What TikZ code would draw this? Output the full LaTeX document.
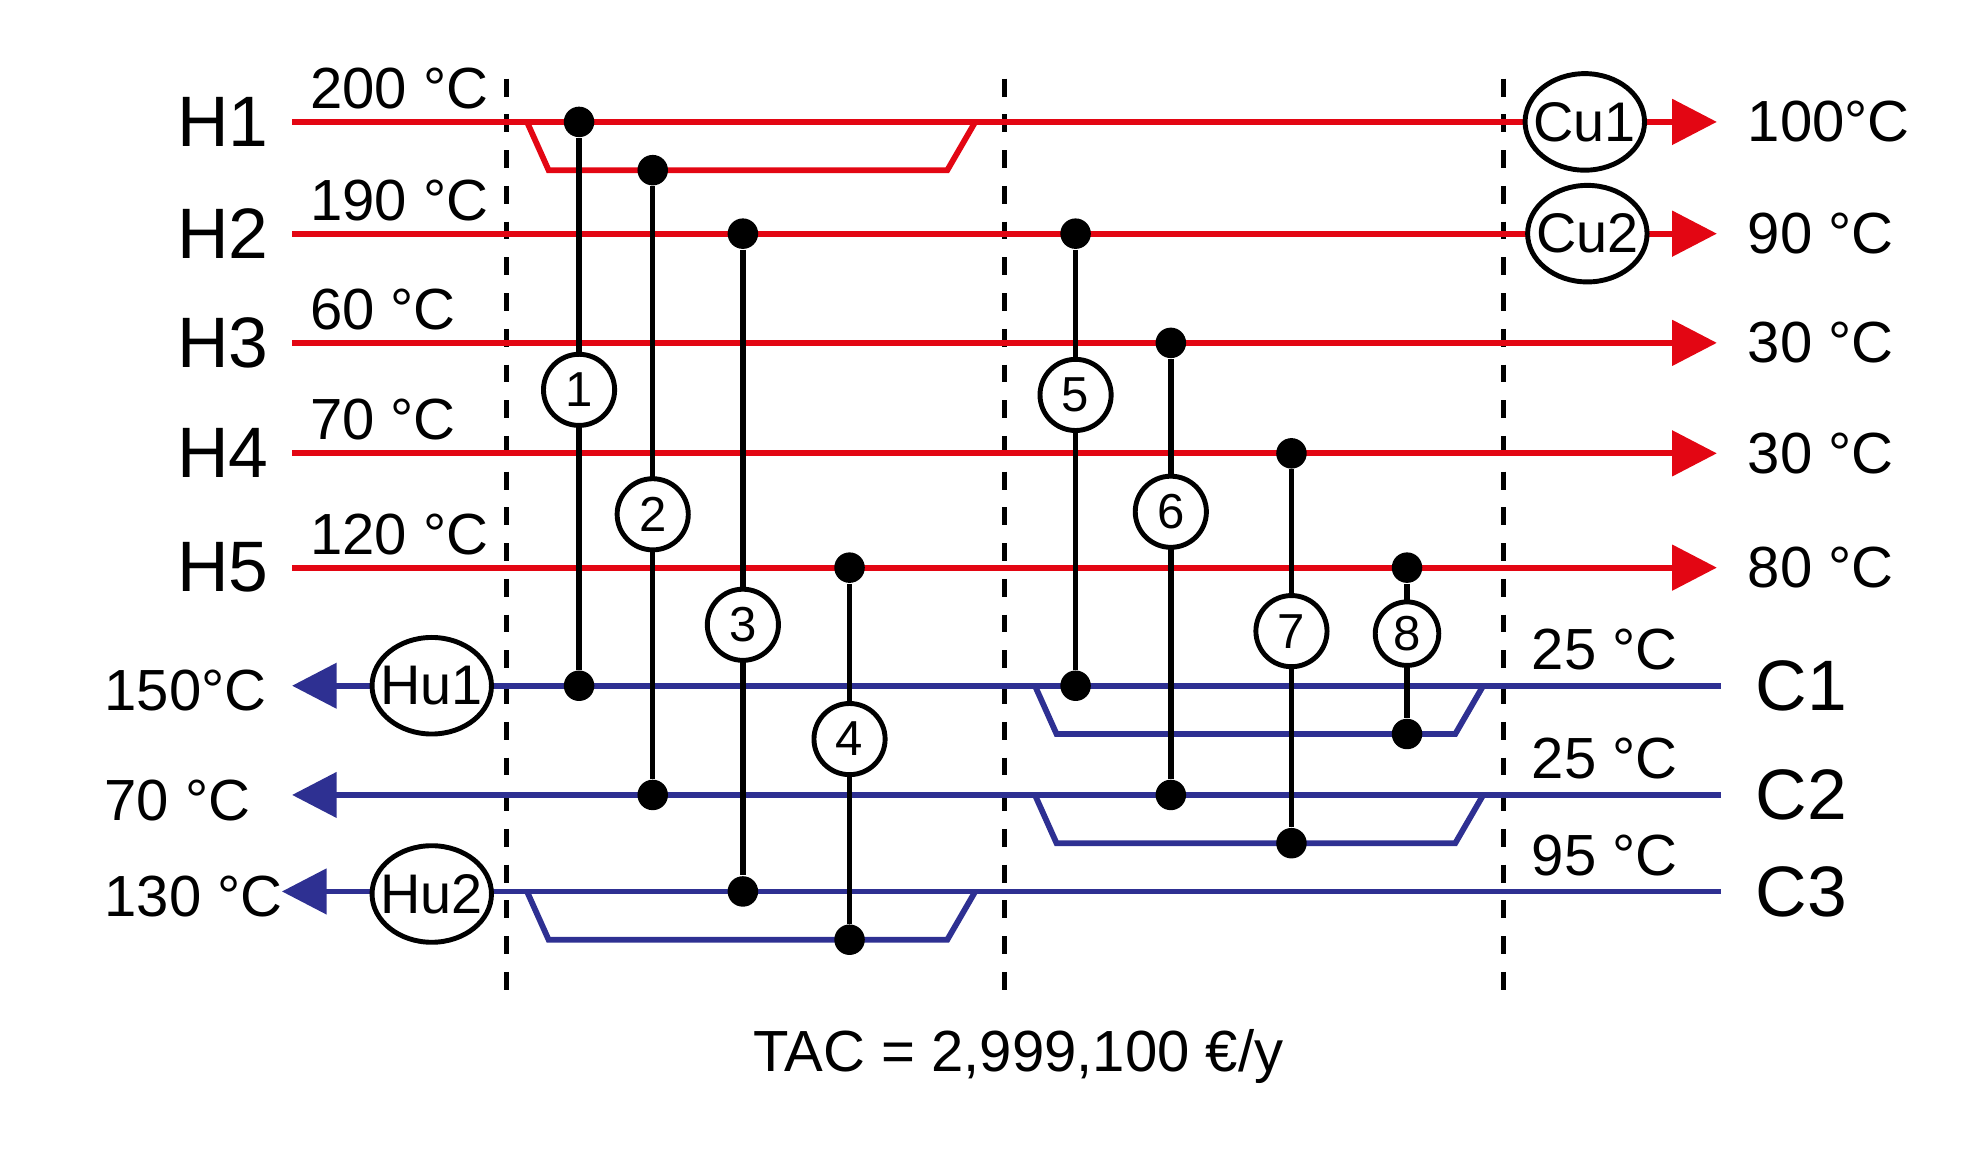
\documentclass[tikz,border=0pt]{standalone}
\usepackage{fontspec}
\setmainfont{Liberation Sans}
\usetikzlibrary{arrows.meta,shapes.geometric}
\definecolor{hot}{HTML}{E30613}
\definecolor{cold}{HTML}{2E3092}
\begin{document}
\begin{tikzpicture}[x=0.01cm,y=-0.01cm,
 hotl/.style={draw=hot,line width=1.3pt},
 coldl/.style={draw=cold,line width=1.3pt},
 arr/.style={-{Triangle[length=10pt,width=10pt]}},
 dot/.style={circle,fill=black,inner sep=0pt,minimum size=0.24cm},
 ex/.style={circle,draw=black,line width=1.1pt,fill=white,minimum size=0.56cm,inner sep=0pt,font=\fontsize{11}{11}\selectfont},
 ut/.style={ellipse,draw=black,line width=1.1pt,fill=white,minimum width=0.94cm,minimum height=0.76cm,inner xsep=-3pt,inner ysep=0pt,font=\fontsize{12.5}{12.5}\selectfont},
 big/.style={font=\fontsize{16}{16}\selectfont},
 tmp/.style={font=\fontsize{13}{13}\selectfont},
 match/.style={draw=black,line width=1.2pt},
 dsh/.style={draw=black,line width=1.1pt,dash pattern=on 4pt off 4pt}]
\useasboundingbox (0,0) rectangle (1560,906);
% dashed lines
\foreach \x/\n in {399/a,791/b,1184/c}{\coordinate (d\n1) at (\x,62); \coordinate (d\n2) at (\x,780); \draw[dsh] (d\n1)--(d\n2);}
% hot streams
\foreach \n/\y/\ti/\to in {1/96/200 °C/100°C,2/184/190 °C/90 °C,3/270/60 °C/30 °C,4/357/70 °C/30 °C,5/447/120 °C/80 °C}{
 \node[big,anchor=east] (H\n) at (224,\y) {H\n};
 \coordinate (hs\n) at (230,\y); \coordinate (he\n) at (1352,\y);
 \draw[hotl,arr] (hs\n)--(he\n);
 \node[tmp,anchor=south west,inner sep=1pt] (ti\n) at (240,\y-6) {\ti};
 \node[tmp,anchor=west] (to\n) at (1364,\y) {\to};
}
% cold streams
\foreach \n/\y/\ti/\to/\xe in {1/540/25 °C/150°C/230,2/626/25 °C/70 °C/230,3/702/95 °C/130 °C/222}{
 \node[big,anchor=west] (C\n) at (1370,\y) {C\n};
 \coordinate (cs\n) at (1355,\y); \coordinate (ce\n) at (\xe,\y);
 \draw[coldl,arr] (cs\n)--(ce\n);
 \node[tmp,anchor=south west,inner sep=1pt] (cti\n) at (1202,\y-8) {\ti};
 \node[tmp,anchor=west] (cto\n) at (70,\y+4) {\to};
}
% bypasses
\coordinate (b1a) at (415,96); \coordinate (b1b) at (432,134); \coordinate (b1c) at (746,134); \coordinate (b1d) at (768,96);
\draw[hotl] (b1a)--(b1b)--(b1c)--(b1d);
\coordinate (b2a) at (415,702); \coordinate (b2b) at (432,740); \coordinate (b2c) at (746,740); \coordinate (b2d) at (768,702);
\draw[coldl] (b2a)--(b2b)--(b2c)--(b2d);
\coordinate (b3a) at (815,540); \coordinate (b3b) at (832,578); \coordinate (b3c) at (1146,578); \coordinate (b3d) at (1168,540);
\draw[coldl] (b3a)--(b3b)--(b3c)--(b3d);
\coordinate (b4a) at (815,626); \coordinate (b4b) at (832,664); \coordinate (b4c) at (1146,664); \coordinate (b4d) at (1168,626);
\draw[coldl] (b4a)--(b4b)--(b4c)--(b4d);
% matches
\foreach \n/\x/\ya/\yb/\ym in {1/456/96/540/307,2/514/134/626/405,3/585/184/702/492,4/669/447/740/582,5/847/184/540/311,6/922/270/626/403,7/1017/357/664/497}{
 \node[dot] (m\n a) at (\x,\ya) {}; \node[dot] (m\n b) at (\x,\yb) {};
 \draw[match] (m\n a)--(m\n b);
 \node[ex] (e\n) at (\x,\ym) {\n};
}
\node[dot] (m8a) at (1108,447) {}; \node[dot] (m8b) at (1108,578) {};
\draw[match] (m8a)--(m8b);
\node[ex,minimum size=0.5cm] (e8) at (1108,499) {8};
% utilities
\node[ut] (Cu1) at (1248,96) {Cu1};
\node[ut] (Cu2) at (1250,184) {Cu2};
\node[ut] (Hu1) at (340,540) {Hu1};
\node[ut] (Hu2) at (340,704) {Hu2};
\node[tmp] (tac) at (802,832) {TAC = 2,999,100 €/y};
\end{tikzpicture}
\end{document}
